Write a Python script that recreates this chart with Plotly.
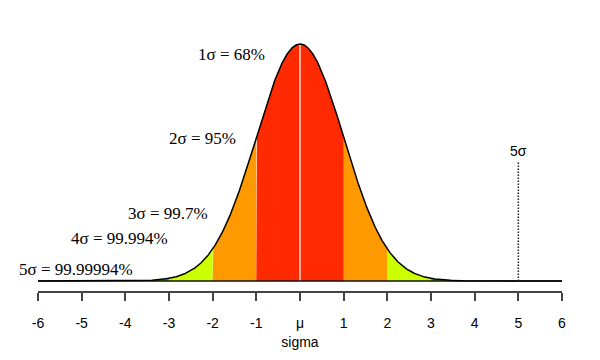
import numpy as np
import plotly.graph_objects as go

# ---- data ----
sigma_levels = [1, 2, 3, 4, 5]
coverage = ["68%", "95%", "99.7%", "99.994%", "99.99994%"]
band_colors = ["#FF2A00", "#FF9900", "#CCFF00", "#33CC00", "#119900"]
tick_vals = [-6, -5, -4, -3, -2, -1, 0, 1, 2, 3, 4, 5, 6]
tick_text = ["-6", "-5", "-4", "-3", "-2", "-1", "μ", "1", "2", "3", "4", "5", "6"]
marker_sigma = 5          # dotted marker position
marker_height = 0.2       # density height of dotted marker

# label anchor points (right edge, vertical centre) in data units
label_x = [-0.75, -1.41, -2.05, -2.97, -3.79]
label_y = [0.381, 0.240, 0.114, 0.071, 0.0194]

# normal density curve
xs = np.linspace(-6, 6, 2401)
def pdf(x):
    return np.exp(-np.asarray(x) ** 2 / 2) / np.sqrt(2 * np.pi)
ys = pdf(xs)

fig = go.Figure()

# coloured bands, outermost first
for k in reversed(range(len(sigma_levels))):
    lvl = sigma_levels[k]
    inner = sigma_levels[k - 1] if k > 0 else 0
    segs = [(-lvl, -inner), (inner, lvl)] if k > 0 else [(-lvl, lvl)]
    for a, b in segs:
        m = (xs >= a) & (xs <= b)
        px = np.concatenate([[a], xs[m], [b]])
        py = np.concatenate([[0], ys[m], [0]])
        fig.add_trace(go.Scatter(x=px, y=py, mode="lines", fill="toself",
                                 fillcolor=band_colors[k], line=dict(width=0),
                                 hoverinfo="skip", showlegend=False))

# centre line
fig.add_trace(go.Scatter(x=[0, 0], y=[0, float(pdf(0))], mode="lines",
                         line=dict(color="#FFD8D0", width=1.5),
                         hoverinfo="skip", showlegend=False))
# baseline
fig.add_trace(go.Scatter(x=[-6, 6], y=[0, 0], mode="lines",
                         line=dict(color="#111111", width=1.6),
                         hoverinfo="skip", showlegend=False))
# curve
fig.add_trace(go.Scatter(x=xs, y=ys, mode="lines",
                         line=dict(color="#000000", width=1.5),
                         hoverinfo="skip", showlegend=False))
# dotted 5 sigma marker
fig.add_trace(go.Scatter(x=[marker_sigma, marker_sigma], y=[0, marker_height],
                         mode="lines",
                         line=dict(color="#222222", width=1.5, dash="1.5px,1.5px"),
                         hoverinfo="skip", showlegend=False))

annotations = []
for lvl, cov, lx, ly in zip(sigma_levels, coverage, label_x, label_y):
    annotations.append(dict(x=lx, y=ly, xref="x", yref="y",
                            text=f"{lvl}σ = {cov}", showarrow=False,
                            xanchor="right", yanchor="middle",
                            font=dict(family="Liberation Serif", size=17, color="#000000")))
annotations.append(dict(x=marker_sigma, y=marker_height + 0.0195, xref="x", yref="y",
                        text=f"{marker_sigma}σ", showarrow=False,
                        xanchor="center", yanchor="middle",
                        font=dict(family="Liberation Sans", size=14, color="#000000")))

fig.update_layout(
    width=600, height=360,
    margin=dict(l=30, r=46, t=12, b=77),
    paper_bgcolor="white", plot_bgcolor="white",
    showlegend=False,
    annotations=annotations,
    xaxis=dict(range=[-6, 6], tickmode="array", tickvals=tick_vals, ticktext=tick_text,
               showgrid=False, zeroline=False, showline=True, linecolor="#444444",
               linewidth=1.5, ticks="outside", ticklen=8, tickwidth=1.5,
               tickcolor="#444444", ticklabelstandoff=10,
               tickfont=dict(family="Liberation Sans", size=14, color="#000000"),
               title=dict(text="sigma", standoff=8,
                          font=dict(family="Liberation Sans", size=14, color="#000000"))),
    yaxis=dict(range=[-0.01683, 0.43934], visible=False, showgrid=False, zeroline=False),
)

fig.write_html("out.html")
